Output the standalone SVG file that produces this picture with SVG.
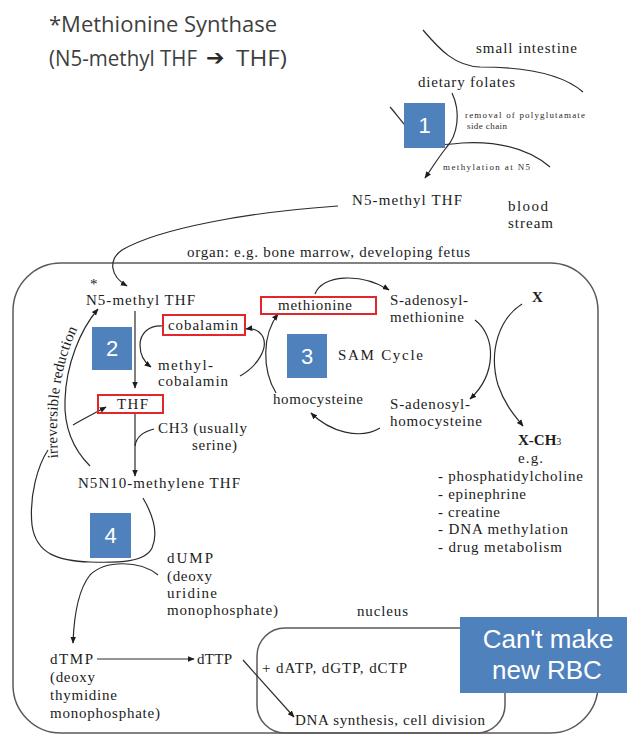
<svg xmlns="http://www.w3.org/2000/svg" width="627" height="738" viewBox="0 0 627 738">
  <style>
    .t { font-family: "Liberation Serif", "DejaVu Serif", serif; font-size: 15px; fill: #1c1c1c; }
    .sm { font-family: "Liberation Serif", "DejaVu Serif", serif; font-size: 9px; fill: #2a2a2a; }
    .title { font-family: "Open Sans", "Noto Sans", sans-serif; font-size: 22px; fill: #3f3f3f; }
    .badge { fill: #4f81bd; }
    .num { font-family: "Liberation Sans", Arial, sans-serif; font-size: 22px; fill: #ffffff; text-anchor: middle; }
    .red { fill: none; stroke: #e3262a; stroke-width: 2; }
    .conn { fill: none; stroke: #2b2b2b; stroke-width: 1.2; }
    .arr { marker-end: url(#ah); }
    .frame { fill: none; stroke: #5a5a5a; stroke-width: 1.5; }
    .gut { fill: none; stroke: #2b2b2b; stroke-width: 1.2; }
  </style>
  <defs>
    <marker id="ah" viewBox="0 0 10 10" refX="9" refY="5" markerWidth="7" markerHeight="7" orient="auto" markerUnits="userSpaceOnUse">
      <path d="M0,1 L10,5 L0,9 z" fill="#1c1c1c"/>
    </marker>
    <path id="irrPath" d="M58,458 C55,415 58,370 77,330"/>
  </defs>

  <rect width="627" height="738" fill="#ffffff"/>

  <!-- heading -->
  <g id="title">
    <text class="title" x="49" y="32" textLength="228" lengthAdjust="spacingAndGlyphs">*Methionine Synthase</text>
    <text class="title" x="49" y="66" textLength="148" lengthAdjust="spacingAndGlyphs">(N5-methyl THF</text>
    <text x="206" y="65" font-family="DejaVu Sans, sans-serif" font-size="22" fill="#2a2a2a">➔</text>
    <text class="title" x="236" y="66" textLength="51" lengthAdjust="spacingAndGlyphs">THF)</text>
  </g>

  <!-- frames: organ and nucleus -->
  <g id="organ">
    <rect class="frame" x="13" y="263" width="585" height="470" rx="48"/>
    <text class="t" x="187" y="257" textLength="283" lengthAdjust="spacing">organ: e.g. bone marrow, developing fetus</text>
  </g>
  <g id="nucleus">
    <rect class="frame" x="257" y="628" width="248" height="105" rx="28" stroke-width="1.3"/>
    <text class="t" x="357" y="616" textLength="51" lengthAdjust="spacing">nucleus</text>
  </g>

  <!-- small intestine walls -->
  <g id="small-intestine">
    <path class="gut" d="M423,30 C440,50 455,66 480,67 C520,67 560,72 583,92"/>
    <path class="gut" d="M390,107 C400,118 408,132 422,140 C432,146 442,145 462,143 C500,141 530,150 550,167"/>
    <text class="t" x="476" y="53" textLength="101" lengthAdjust="spacing">small intestine</text>
  </g>

  <!-- connectors -->
  <g id="connectors">
    <!-- dietary folates to N5-methyl THF -->
    <path class="conn arr" d="M452,93 C461,112 458,135 446,148 C438,158 432,168 425,178"/>
    <!-- blood N5-methyl THF into the organ -->
    <path class="conn arr" d="M338,206 C250,212 160,228 122,250 C108,260 110,276 127,286"/>
    <!-- N5-methyl THF to THF -->
    <path class="conn arr" d="M135,311 L135,388"/>
    <!-- cobalamin to methyl-cobalamin -->
    <path class="conn arr" d="M163,326 C148,325 140,334 140,345 C140,355 144,362 151,367"/>
    <!-- methyl-cobalamin back to cobalamin -->
    <path class="conn arr" d="M240,376 C258,366 268,348 263,337 C259,330 253,328 246,329"/>
    <!-- THF to N5N10-methylene THF -->
    <path class="conn arr" d="M135,414 L135,476"/>
    <!-- CH3 donor joining -->
    <path class="conn" d="M154,429 C142,432 136,438 135,446"/>
    <!-- irreversible reduction arrow -->
    <path class="conn arr" d="M90,466 C72,448 64,425 65,400 C66,365 80,330 98,309"/>
    <!-- loop 4: N5N10-methylene THF back to THF -->
    <path class="conn" d="M143,498 C150,510 160,530 152,548 C145,562 120,563 90,562 C60,561 36,555 32,525 C29,495 38,465 48,450"/>
    <path class="conn arr" d="M73,425 C85,418 95,413 106,407"/>
    <!-- dUMP to dTMP -->
    <path class="conn arr" d="M158,575 C140,560 105,560 90,575 C78,590 74,615 73,643"/>
    <!-- dTMP to dTTP -->
    <path class="conn arr" d="M97,659 L194,659"/>
    <!-- dTTP to DNA synthesis -->
    <path class="conn arr" d="M243,660 L294,717"/>
    <!-- SAM cycle -->
    <path class="conn arr" d="M315,294 C322,275 360,272 389,290"/>
    <path class="conn arr" d="M475,320 C497,337 496,375 470,399"/>
    <path class="conn arr" d="M380,428 C360,440 330,432 311,413"/>
    <path class="conn arr" d="M276,393 C262,370 262,335 278,314"/>
    <!-- X to X-CH3 -->
    <path class="conn arr" d="M522,304 C500,318 488,350 498,385 C505,405 514,415 523,426"/>
  </g>

  <!-- step 1 -->
  <g id="dietary-folates">
    <text class="t" x="418" y="87" textLength="97" lengthAdjust="spacing">dietary folates</text>
  </g>
  <g id="badge-1">
    <rect class="badge" x="404" y="103" width="41" height="45"/>
    <text class="num" x="424.5" y="133">1</text>
  </g>
  <g id="step1-notes">
    <text class="sm" x="465" y="118" textLength="120" lengthAdjust="spacing">removal of polyglutamate</text>
    <text class="sm" x="467" y="129" textLength="40" lengthAdjust="spacing">side chain</text>
    <text class="sm" x="443" y="170" textLength="87" lengthAdjust="spacing">methylation at N5</text>
  </g>

  <!-- blood stream -->
  <g id="n5-methyl-thf-blood">
    <text class="t" x="352" y="205" textLength="110" lengthAdjust="spacing">N5-methyl THF</text>
  </g>
  <g id="blood-stream">
    <text class="t" x="508" y="211" textLength="40" lengthAdjust="spacing">blood</text>
    <text class="t" x="508" y="228" textLength="45" lengthAdjust="spacing">stream</text>
  </g>

  <!-- folate cycle -->
  <g id="n5-methyl-thf">
    <text class="t" x="90" y="289" font-size="12" fill="#2c3f66">*</text>
    <text class="t" x="86" y="305" textLength="109" lengthAdjust="spacing">N5-methyl THF</text>
  </g>
  <g id="badge-2">
    <rect class="badge" x="92" y="327" width="40" height="43"/>
    <text class="num" x="112" y="356">2</text>
  </g>
  <g id="cobalamin">
    <rect class="red" x="163" y="315" width="82" height="20"/>
    <text class="t" x="168" y="330" textLength="70" lengthAdjust="spacing">cobalamin</text>
  </g>
  <g id="methyl-cobalamin">
    <text class="t" x="158" y="370" textLength="55" lengthAdjust="spacing">methyl-</text>
    <text class="t" x="158" y="386" textLength="70" lengthAdjust="spacing">cobalamin</text>
  </g>
  <g id="thf">
    <rect class="red" x="98" y="395" width="65" height="18"/>
    <text class="t" x="117" y="409" textLength="31" lengthAdjust="spacing">THF</text>
  </g>
  <g id="ch3-donor">
    <text class="t" x="158" y="433" textLength="89" lengthAdjust="spacing">CH3 (usually</text>
    <text class="t" x="192" y="450" textLength="45" lengthAdjust="spacing">serine)</text>
  </g>
  <g id="n5n10-methylene-thf">
    <text class="t" x="78" y="488" textLength="162" lengthAdjust="spacing">N5N10-methylene THF</text>
  </g>
  <g id="irreversible-reduction">
    <text class="t" font-size="13"><textPath href="#irrPath" textLength="132" lengthAdjust="spacing">irreversible reduction</textPath></text>
  </g>
  <g id="badge-4">
    <rect class="badge" x="90" y="513" width="41" height="45"/>
    <text class="num" x="110.5" y="543">4</text>
  </g>

  <!-- nucleotides -->
  <g id="dump">
    <text class="t" x="167" y="563" textLength="46" lengthAdjust="spacing">dUMP</text>
    <text class="t" x="167" y="581" textLength="45" lengthAdjust="spacing">(deoxy</text>
    <text class="t" x="167" y="598" textLength="50" lengthAdjust="spacing">uridine</text>
    <text class="t" x="167" y="615" textLength="111" lengthAdjust="spacing">monophosphate)</text>
  </g>
  <g id="dtmp">
    <text class="t" x="50" y="664" textLength="43" lengthAdjust="spacing">dTMP</text>
    <text class="t" x="50" y="682" textLength="45" lengthAdjust="spacing">(deoxy</text>
    <text class="t" x="50" y="700" textLength="67" lengthAdjust="spacing">thymidine</text>
    <text class="t" x="50" y="718" textLength="110" lengthAdjust="spacing">monophosphate)</text>
  </g>
  <g id="dttp">
    <text class="t" x="197" y="664" textLength="35" lengthAdjust="spacing">dTTP</text>
  </g>
  <g id="other-dntps">
    <text class="t" x="262" y="673" textLength="145" lengthAdjust="spacing">+ dATP, dGTP, dCTP</text>
  </g>
  <g id="dna-synthesis">
    <text class="t" x="295" y="725" textLength="190" lengthAdjust="spacing">DNA synthesis, cell division</text>
  </g>

  <!-- SAM cycle -->
  <g id="methionine">
    <rect class="red" x="261" y="297" width="115" height="17"/>
    <text class="t" x="278" y="310" textLength="74" lengthAdjust="spacing">methionine</text>
  </g>
  <g id="s-adenosyl-methionine">
    <text class="t" x="390" y="305" textLength="78" lengthAdjust="spacing">S-adenosyl-</text>
    <text class="t" x="390" y="322" textLength="74" lengthAdjust="spacing">methionine</text>
  </g>
  <g id="badge-3">
    <rect class="badge" x="287" y="334" width="40" height="44"/>
    <text class="num" x="307" y="364">3</text>
  </g>
  <g id="sam-cycle">
    <text class="t" x="338" y="360" font-size="17" textLength="85" lengthAdjust="spacing">SAM Cycle</text>
  </g>
  <g id="homocysteine">
    <text class="t" x="273" y="404" textLength="90" lengthAdjust="spacing">homocysteine</text>
  </g>
  <g id="s-adenosyl-homocysteine">
    <text class="t" x="390" y="409" textLength="80" lengthAdjust="spacing">S-adenosyl-</text>
    <text class="t" x="390" y="426" textLength="92" lengthAdjust="spacing">homocysteine</text>
  </g>

  <!-- methyl acceptors -->
  <g id="x">
    <text class="t" x="532" y="302" font-size="16" font-weight="bold">X</text>
  </g>
  <g id="x-ch3">
    <text class="t" x="518" y="445" font-size="16" font-weight="bold">X-CH<tspan font-size="10" font-weight="normal">3</tspan></text>
    <text class="t" x="518" y="463" textLength="25" lengthAdjust="spacing">e.g.</text>
    <text class="t" x="438" y="481" textLength="145" lengthAdjust="spacing">- phosphatidylcholine</text>
    <text class="t" x="438" y="499" textLength="88" lengthAdjust="spacing">- epinephrine</text>
    <text class="t" x="438" y="517" textLength="62" lengthAdjust="spacing">- creatine</text>
    <text class="t" x="438" y="534" textLength="130" lengthAdjust="spacing">- DNA methylation</text>
    <text class="t" x="438" y="552" textLength="124" lengthAdjust="spacing">- drug metabolism</text>
  </g>

  <!-- callout -->
  <g id="cant-make-rbc">
    <rect class="badge" x="460" y="617" width="167" height="76"/>
    <text x="548" y="648" font-family="Liberation Sans, Arial, sans-serif" font-size="26" fill="#ffffff" text-anchor="middle">Can't make</text>
    <text x="547" y="679" font-family="Liberation Sans, Arial, sans-serif" font-size="26" fill="#ffffff" text-anchor="middle">new RBC</text>
  </g>
</svg>
